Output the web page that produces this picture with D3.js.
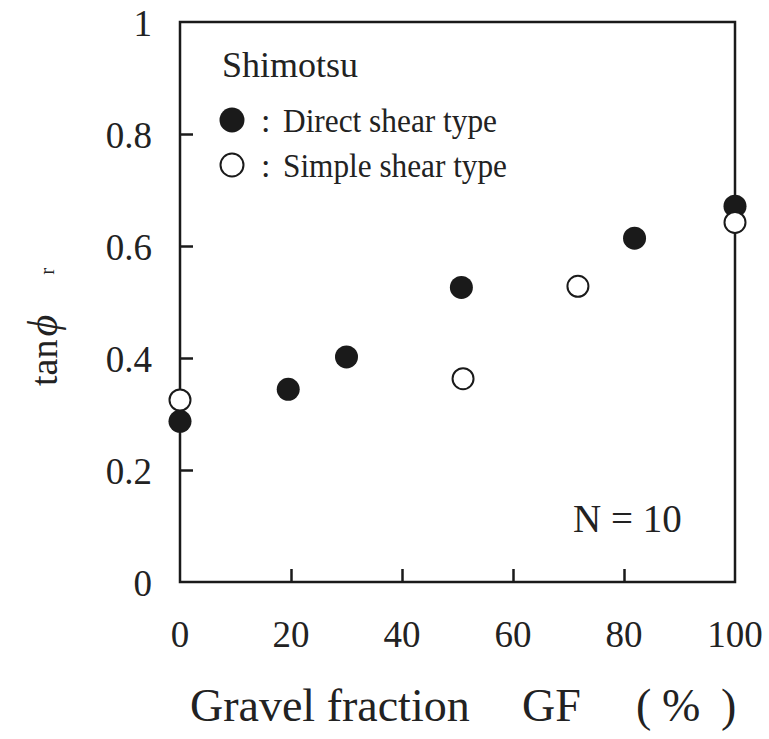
<!DOCTYPE html>
<html>
<head>
<meta charset="utf-8">
<script src="https://cdn.jsdelivr.net/npm/d3@7"></script>
<style>
  body { margin: 0; background: #fff; }
  svg text { font-family: "Liberation Serif", "Times New Roman", serif; fill: #222; }
</style>
</head>
<body>
<div id="chart"></div>
<script>
// gravel fraction (%) and tan(phi_r)
const directGF = [0, 19.5, 30, 50.7, 81.9, 100]
const directTan = [0.287, 0.344, 0.402, 0.526, 0.614, 0.671]
const simpleGF = [0, 51, 71.7, 100]
const simpleTan = [0.325, 0.363, 0.528, 0.642]
const xTicks = [0, 20, 40, 60, 80, 100]
const yTicks = [0, 0.2, 0.4, 0.6, 0.8, 1]
const legendLabels = ['Direct shear type', 'Simple shear type']

const params = {
  width: 769,
  height: 739,
  marginTop: 22,
  marginBottom: 157,
  marginLeft: 180,
  marginRight: 34,
}

const svg = d3.select('#chart')
  .append('svg')
  .attr('width', params.width)
  .attr('height', params.height)

const x = d3.scaleLinear()
  .domain([0, 100])
  .range([params.marginLeft, params.width - params.marginRight])

const y = d3.scaleLinear()
  .domain([0, 1])
  .range([params.height - params.marginBottom, params.marginTop])

const ink = '#1a1a1a'

// frame
svg.append('rect')
  .attr('x', x(0))
  .attr('y', y(1))
  .attr('width', x(100) - x(0))
  .attr('height', y(0) - y(1))
  .attr('fill', 'none')
  .attr('stroke', ink)
  .attr('stroke-width', 2.5)

// inward ticks, labels drawn separately
const xAxis = svg.append('g')
  .attr('transform', `translate(0,${y(0)})`)
  .call(d3.axisBottom(x).tickValues(xTicks.slice(1, -1)).tickSize(-13).tickFormat(''))
const yAxis = svg.append('g')
  .attr('transform', `translate(${x(0)},0)`)
  .call(d3.axisLeft(y).tickValues(yTicks.slice(1, -1)).tickSize(-13).tickFormat(''))
;[xAxis, yAxis].forEach(g => {
  g.select('.domain').remove()
  g.selectAll('line').attr('stroke', ink).attr('stroke-width', 2.5)
})

svg.selectAll('.xlab')
  .data(xTicks)
  .enter()
  .append('text')
  .attr('x', d => x(d))
  .attr('y', y(0) + 65)
  .attr('text-anchor', 'middle')
  .attr('font-size', 37)
  .text(d => d)

svg.selectAll('.ylab')
  .data(yTicks)
  .enter()
  .append('text')
  .attr('x', x(0) - 28)
  .attr('y', d => y(d) + 14)
  .attr('text-anchor', 'end')
  .attr('font-size', 37)
  .text(d => d)

// x title, pieces spaced like the original
const xTitle = [['Gravel fraction', 190], ['GF', 522], ['(', 636], ['%', 662], [')', 721]]
svg.selectAll('.xtitle')
  .data(xTitle)
  .enter()
  .append('text')
  .attr('x', d => d[1])
  .attr('y', 721)
  .attr('font-size', 46)
  .text(d => d[0])

// y title: tan phi with a small r far to the right
const yt = svg.append('text')
  .attr('transform', 'translate(57,386) rotate(-90)')
  .attr('font-size', 38)
yt.append('tspan').text('tan')
yt.append('tspan').attr('font-style', 'italic').attr('font-size', 42).attr('dx', 3).text('ϕ')
yt.append('tspan').attr('font-size', 21).attr('dx', 40).attr('dy', -3).text('r')

// points
svg.append('g')
  .selectAll('circle')
  .data(directGF)
  .enter()
  .append('circle')
  .attr('cx', d => x(d))
  .attr('cy', (d, i) => y(directTan[i]))
  .attr('r', 11.5)
  .attr('fill', ink)

svg.append('g')
  .selectAll('circle')
  .data(simpleGF)
  .enter()
  .append('circle')
  .attr('cx', d => x(d))
  .attr('cy', (d, i) => y(simpleTan[i]))
  .attr('r', 10.5)
  .attr('fill', 'white')
  .attr('stroke', ink)
  .attr('stroke-width', 2)

// legend
svg.append('text')
  .attr('x', 222)
  .attr('y', 77)
  .attr('font-size', 36)
  .text('Shimotsu')

const legend = svg.append('g')
legendLabels.forEach((label, i) => {
  const cy = 120 + i * 45
  legend.append('circle')
    .attr('cx', 232)
    .attr('cy', cy)
    .attr('r', i === 0 ? 12.5 : 11.5)
    .attr('fill', i === 0 ? ink : 'white')
    .attr('stroke', ink)
    .attr('stroke-width', i === 0 ? 0 : 2)
  legend.append('text')
    .attr('x', 261)
    .attr('y', cy + 12)
    .attr('font-size', 34)
    .text(':')
  legend.append('text')
    .attr('x', 283)
    .attr('y', cy + 12)
    .attr('font-size', 34)
    .attr('textLength', i === 0 ? 214 : 224)
    .attr('lengthAdjust', 'spacingAndGlyphs')
    .text(label)
})

svg.append('text')
  .attr('x', 573)
  .attr('y', 532)
  .attr('font-size', 39)
  .text('N = 10')
</script>
</body>
</html>
